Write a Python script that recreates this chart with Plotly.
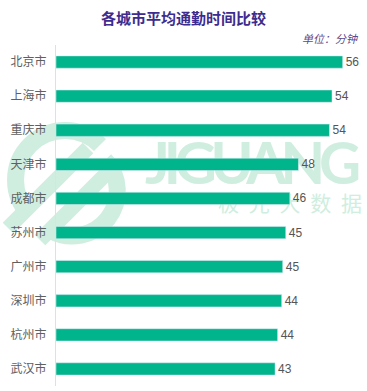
import base64
import plotly.graph_objects as go

cities = ["北京市", "上海市", "重庆市", "天津市", "成都市", "苏州市", "广州市", "深圳市", "杭州市", "武汉市"]
minutes = [56.4, 54.3, 53.8, 47.7, 46.0, 45.2, 44.6, 44.4, 43.6, 43.1]
labels = ["56", "54", "54", "48", "46", "45", "45", "44", "44", "43"]

title_text = "各城市平均通勤时间比较"
unit_text = "单位：分钟"

W, H = 367, 391
L, R, T, B = 56, 10, 45, 5
pw, ph = W - L - R, H - T - B

wm = "#cfeee0"
svg = f'''<svg xmlns="http://www.w3.org/2000/svg" width="{W}" height="{H}" viewBox="0 0 {W} {H}">
<g fill="none" stroke="{wm}" stroke-width="17" stroke-linecap="butt">
<path d="M 30 215 A 45 45 0 0 1 100 145"/>
<path d="M 105 160 A 45 45 0 0 1 50 230"/>
</g>
<g stroke="{wm}" stroke-width="15">
<line x1="8" y1="228" x2="88" y2="148"/>
<line x1="40" y1="240" x2="118" y2="162"/>
</g>
<text x="145" y="184" font-family="Lato, Noto Sans, sans-serif" font-weight="bold" font-size="58" fill="{wm}" textLength="216" lengthAdjust="spacing">JIGUANG</text>
<text x="218" y="211" font-family="Noto Sans CJK SC" font-size="21" fill="{wm}" textLength="144" lengthAdjust="spacing">极光大数据</text>
</svg>'''
uri = "data:image/svg+xml;base64," + base64.b64encode(svg.encode("utf-8")).decode()

fig = go.Figure(go.Bar(
    x=minutes, y=cities, orientation="h",
    marker=dict(color="#00b48c"),
    text=labels, textposition="outside", constraintext="none",
    textfont=dict(size=12, color="#555555", family="Liberation Sans, Arial, sans-serif"),
    cliponaxis=False, width=0.36,
))

fig.update_layout(
    width=W, height=H,
    margin=dict(l=L, r=R, t=T, b=B),
    paper_bgcolor="white", plot_bgcolor="rgba(0,0,0,0)",
    showlegend=False,
    font=dict(family="Noto Sans CJK SC", color="#595959", size=12),
    xaxis=dict(range=[0, pw / 5.083], visible=False, showgrid=False, zeroline=False),
    yaxis=dict(autorange="reversed", showline=True, linecolor="#e0e0e0", linewidth=1,
               ticks="", ticklabelstandoff=6, tickfont=dict(size=12, color="#606060")),
    images=[dict(source=uri, xref="paper", yref="paper",
                 x=-L / pw, y=1 + T / ph, sizex=W / pw, sizey=H / ph,
                 xanchor="left", yanchor="top", sizing="stretch", layer="below")],
    annotations=[
        dict(text=f"<b>{title_text}</b>", xref="paper", yref="paper",
             x=(W / 2 - L) / pw, y=1 + (T - 17) / ph, xanchor="center", yanchor="middle",
             showarrow=False, font=dict(size=15, color="#3d2c8d")),
        dict(text=f"<i>{unit_text}</i>", xref="paper", yref="paper",
             x=(W - 6 - L) / pw, y=1 + (T - 38) / ph, xanchor="right", yanchor="middle",
             showarrow=False, font=dict(size=11, color="#5b4a8e")),
    ],
)

fig.write_html("out.html")
